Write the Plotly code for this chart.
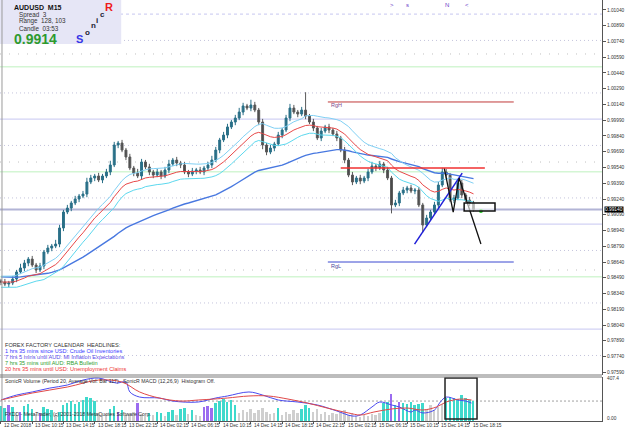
import plotly.graph_objects as go
import pandas as pd

# ---------------- data ----------------
first_open = 0.98460
closes = [
    0.98449, 0.98430, 0.98440, 0.98478, 0.98545, 0.98583, 0.98630, 0.98668, 0.98611, 0.98564,
    0.98602, 0.98735, 0.98773, 0.98792, 0.98811, 0.98964, 0.99116, 0.99154, 0.99202, 0.99240,
    0.99268, 0.99287, 0.99402, 0.99440, 0.99459, 0.99421, 0.99459, 0.99497, 0.99564, 0.99754,
    0.99773, 0.99706, 0.99640, 0.99535, 0.99487, 0.99459, 0.99592, 0.99545, 0.99497, 0.99468,
    0.99497, 0.99459, 0.99516, 0.99573, 0.99611, 0.99583, 0.99564, 0.99497, 0.99478, 0.99506,
    0.99516, 0.99497, 0.99535, 0.99564, 0.99611, 0.99706, 0.99802, 0.99849, 0.99926, 0.99973,
    1.00011, 1.00068, 1.00126, 1.00106, 1.00135, 1.00087, 0.99973, 0.99754, 0.99687, 0.99725,
    0.99764, 0.99849, 0.99897, 1.00011, 1.00106, 1.00068, 1.00049, 1.00087, 1.00030, 0.99973,
    0.99916, 0.99821, 0.99887, 0.99926, 0.99897, 0.99859, 0.99821, 0.99706, 0.99611, 0.99468,
    0.99402, 0.99440, 0.99411, 0.99440, 0.99497, 0.99554, 0.99535, 0.99573, 0.99516, 0.99440,
    0.99183, 0.99202, 0.99297, 0.99325, 0.99345, 0.99316, 0.99325, 0.99183, 0.98992, 0.99059,
    0.99116, 0.99183, 0.99373, 0.99497, 0.99468, 0.99230, 0.99249, 0.99392, 0.99278, 0.99230,
    0.99202, 0.99140]
up_wick_pips = [
    2, 3, 2, 3, 2, 4, 3, 2, 3, 2,
    3, 2, 3, 2, 4, 3, 2, 3, 2, 3,
    2, 3, 4, 3, 2, 3, 2, 3, 4, 3,
    2, 3, 2, 3, 2, 4, 3, 2, 3, 2,
    3, 2, 3, 4, 2, 3, 2, 3, 2, 3,
    2, 3, 2, 3, 4, 3, 2, 3, 3, 2,
    3, 4, 3, 2, 5, 3, 2, 3, 2, 3,
    2, 3, 2, 3, 4, 3, 2, 3, 17, 2,
    3, 2, 3, 2, 3, 2, 3, 2, 3, 2,
    3, 2, 3, 2, 3, 4, 2, 3, 2, 3,
    2, 3, 2, 3, 2, 3, 2, 3, 2, 3,
    2, 3, 3, 4, 3, 2, 3, 2, 3, 2,
    3, 2]
low_wick_pips = [
    3, 2, 3, 2, 3, 2, 3, 3, 2, 3,
    2, 3, 2, 3, 2, 3, 3, 2, 3, 2,
    3, 2, 3, 2, 3, 2, 3, 2, 3, 2,
    3, 2, 3, 2, 3, 2, 3, 2, 3, 3,
    2, 3, 2, 3, 2, 3, 3, 2, 3, 2,
    3, 2, 3, 2, 3, 2, 3, 2, 3, 2,
    3, 2, 3, 2, 3, 2, 3, 4, 3, 2,
    3, 2, 3, 2, 3, 2, 3, 2, 3, 2,
    3, 2, 3, 2, 3, 2, 3, 2, 3, 2,
    3, 2, 3, 2, 3, 2, 3, 2, 3, 2,
    8, 2, 3, 2, 3, 2, 3, 2, 7, 2,
    3, 2, 3, 2, 3, 2, 3, 2, 3, 2,
    3, 2]

volumes = [
    140, 120, 150, 130, 60, 90, 140, 160, 110, 70,
    80, 130, 110, 100, 60, 90, 150, 170, 190, 160,
    180, 200, 230, 220, 190, 80, 60, 70, 110, 140,
    90, 100, 60, 70, 90, 170, 70, 50, 80, 60,
    90, 80, 50, 90, 100, 60, 110, 120, 70, 100,
    60, 50, 130, 140, 120, 170, 190, 210, 180, 200,
    150, 80, 100, 90, 110, 80, 100, 120, 90, 70,
    80, 120, 60, 90, 70, 100, 80, 110, 150, 120,
    90, 110, 70, 90, 60, 80, 70, 90, 100, 60,
    80, 50, 40, 60, 50, 70, 60, 80, 170, 180,
    260, 150, 180, 170, 160, 180, 150, 160, 170, 110,
    150, 100, 130, 160, 220, 230, 220, 210, 250, 220,
    200, 190]
volume_kind = ("ttptgptttg" "ptttgttttt" "tttttgggtt" "ptgggpggtg" "ttgttgttgt"
               "ggpppttttt" "tggggggggg" "gtgggggttt" "gggggggggg" "ggggggggtt"
               "ptpttttttg" "ggggtttttt" "tt")
volume_avg_level = 189

macd_blue_x = [0, 4, 8, 12.5, 17, 21, 25, 29.5, 32, 33, 35.5, 40.5, 44, 50.5, 55, 58, 63.5, 67, 71,
               76, 81, 86, 90, 92, 95, 97, 100, 102, 105, 106, 108, 111, 112.5, 114, 117, 119, 120.5]
macd_blue = [199, 246, 275, 312, 341, 388, 407, 360, 369, 275, 227, 218, 189, 180, 218, 237, 275, 246, 199,
             180, 152, 95, 47, 57, 133, 180, 152, 133, 85, 104, 76, 104, 180, 227, 199, 189, 170]
macd_red_x = [0, 8, 17, 25, 31, 35.5, 40.5, 46, 50.5, 54.5, 58, 63.5, 68.5, 73.5, 78.5, 83.5, 89, 92,
              95.5, 100, 104, 108, 111.5, 114, 117.5, 120.5]
macd_red = [199, 265, 322, 388, 369, 275, 218, 189, 199, 208, 218, 237, 237, 208, 170, 123, 76, 57,
            85, 114, 123, 104, 133, 180, 208, 199]

price_tick_labels = ["1.01040", "1.00890", "1.00740", "1.00590", "1.00440", "1.00290", "1.00140",
                     "0.99990", "0.99840", "0.99690", "0.99540", "0.99390", "0.99240", "0.99090",
                     "0.98940", "0.98790", "0.98640", "0.98490", "0.98340", "0.98190", "0.98040",
                     "0.97890", "0.97740", "0.97590"]
time_labels = ["12 Dec 2018", "13 Dec 10:15", "13 Dec 14:15", "13 Dec 18:15", "13 Dec 22:15",
               "14 Dec 02:15", "14 Dec 06:15", "14 Dec 10:15", "14 Dec 14:15", "14 Dec 18:15",
               "14 Dec 22:15", "15 Dec 02:15", "15 Dec 06:15", "15 Dec 10:15", "15 Dec 14:15",
               "15 Dec 18:15"]
time_label_index = [0, 8, 16, 24, 32, 40, 48, 56, 64, 72, 80, 88, 96, 104, 112, 120]

bid_price = 0.99140
round_levels = [1.0100, 1.0000, 0.9900, 0.9800]
half_levels = [1.0050, 0.9950, 0.9850]
quarter_levels = [1.0075, 1.0025, 0.9975, 0.9925, 0.9875, 0.9825, 0.9775]
other_levels = [1.00621, 0.99592, 0.98564]
range_high = 1.00164
range_low = 0.98640
resistance = 0.99535
trend_x = [105.9, 118.1]
trend_y = [0.98811, 0.99487]
zigzag_x = [113.5, 115.8, 117.3, 122.9]
zigzag_y = [0.99535, 0.99116, 0.99440, 0.98811]
slow_seed = 0.98500

# ---------------- derived ----------------
n = len(closes)
idx = list(range(n))
opens = [first_open] + closes[:-1]
highs = [max(o, c) + u * 0.0001 for o, c, u in zip(opens, closes, up_wick_pips)]
lows = [min(o, c) - l * 0.0001 for o, c, l in zip(opens, closes, low_wick_pips)]
s_close = pd.Series(closes)
ema_close = s_close.ewm(span=19, adjust=False).mean()
ema_high = pd.Series(highs).ewm(span=19, adjust=False).mean() + 0.00025
ema_low = pd.Series(lows).ewm(span=19, adjust=False).mean() - 0.00020
ema_slow = pd.Series([slow_seed] + closes).ewm(span=58, adjust=False).mean()[1:].reset_index(drop=True)

kind_colors = {"t": "#3fd9cc", "g": "#cfcfcf", "p": "#9b6cf0"}
vol_colors = [kind_colors[k] for k in volume_kind]

FONT = "Liberation Sans, Arial, sans-serif"
W_PLOT = 606.0
H_PLOT = 421.0


def px2x(px):
    return px / W_PLOT


def py2y(py):
    return (H_PLOT - py) / H_PLOT


fig = go.Figure()

# main price window
fig.add_trace(go.Candlestick(
    x=idx, open=opens, high=highs, low=lows, close=closes,
    increasing=dict(line=dict(color="#2a7088", width=1), fillcolor="#2a7088"),
    decreasing=dict(line=dict(color="#5a5a5a", width=1), fillcolor="#4a4a4a"),
    whiskerwidth=0, showlegend=False, xaxis="x", yaxis="y", hoverinfo="skip"))

fig.add_trace(go.Scatter(x=idx, y=ema_slow, mode="lines", line=dict(color="#4878e0", width=1.4),
                         showlegend=False, xaxis="x", yaxis="y", hoverinfo="skip"))
fig.add_trace(go.Scatter(x=idx, y=ema_high, mode="lines", line=dict(color="#80d0f4", width=1),
                         showlegend=False, xaxis="x", yaxis="y", hoverinfo="skip"))
fig.add_trace(go.Scatter(x=idx, y=ema_low, mode="lines", line=dict(color="#5cd8ee", width=1),
                         showlegend=False, xaxis="x", yaxis="y", hoverinfo="skip"))
fig.add_trace(go.Scatter(x=idx, y=ema_close, mode="lines", line=dict(color="#e84848", width=1),
                         showlegend=False, xaxis="x", yaxis="y", hoverinfo="skip"))

# drawn objects
fig.add_trace(go.Scatter(x=trend_x, y=trend_y, mode="lines", line=dict(color="#2020d8", width=1.5),
                         showlegend=False, xaxis="x", yaxis="y", hoverinfo="skip"))
fig.add_trace(go.Scatter(x=zigzag_x, y=zigzag_y, mode="lines", line=dict(color="#111111", width=1.3),
                         showlegend=False, xaxis="x", yaxis="y", hoverinfo="skip"))

# sub window
fig.add_trace(go.Bar(x=idx, y=volumes, marker=dict(color=vol_colors, line=dict(width=0)), width=0.5,
                     showlegend=False, xaxis="x2", yaxis="y2", hoverinfo="skip"))
fig.add_trace(go.Scatter(x=macd_blue_x, y=macd_blue, mode="lines", line=dict(color="#4a4af0", width=1, shape="spline"),
                         showlegend=False, xaxis="x2", yaxis="y2", hoverinfo="skip"))
fig.add_trace(go.Scatter(x=macd_red_x, y=macd_red, mode="lines", line=dict(color="#e04848", width=1, shape="spline"),
                         showlegend=False, xaxis="x2", yaxis="y2", hoverinfo="skip"))

shapes = []
for lv in round_levels:
    shapes.append(dict(type="line", xref="x domain", x0=0, x1=1, yref="y", y0=lv, y1=lv,
                       line=dict(color="#d2d2f4", width=1.2, dash="dot" if lv > 1.005 else "solid"), layer="below"))
for lv in half_levels:
    shapes.append(dict(type="line", xref="x domain", x0=0, x1=1, yref="y", y0=lv, y1=lv,
                       line=dict(color="#d4f6d4", width=1.5), layer="below"))
for lv in quarter_levels:
    shapes.append(dict(type="line", xref="x domain", x0=0, x1=1, yref="y", y0=lv, y1=lv,
                       line=dict(color="#c4c4dc", width=1, dash="1px,3px"), layer="below"))
for lv in other_levels:
    shapes.append(dict(type="line", xref="x domain", x0=0, x1=1, yref="y", y0=lv, y1=lv,
                       line=dict(color="#c0c0c0", width=1, dash="1px,8px"), layer="below"))
# bid line
shapes.append(dict(type="line", xref="x domain", x0=0, x1=1, yref="y", y0=bid_price, y1=bid_price,
                   line=dict(color="#b2b4d6", width=2), layer="below"))
# range high / low lines
shapes.append(dict(type="line", xref="x", x0=83.7, x1=131.3, yref="y", y0=range_high, y1=range_high,
                   line=dict(color="#c03a3a", width=1)))
shapes.append(dict(type="line", xref="x", x0=83.7, x1=131.3, yref="y", y0=range_low, y1=range_low,
                   line=dict(color="#3a48d0", width=1)))
shapes.append(dict(type="line", xref="x", x0=87.0, x1=123.9, yref="y", y0=resistance, y1=resistance,
                   line=dict(color="#f03030", width=1.5)))
# rectangle
shapes.append(dict(type="rect", xref="x", x0=118.6, x1=126.5, yref="y", y0=0.99126, y1=0.99202,
                   line=dict(color="#111111", width=1.5), fillcolor="rgba(255,255,255,0.6)"))
# sub window rectangle
shapes.append(dict(type="rect", xref="x2", x0=113.7, x1=121.9, yref="y2", y0=19, y1=407,
                   line=dict(color="#222222", width=1.5)))
# volume average dashed line
shapes.append(dict(type="line", xref="x2 domain", x0=0, x1=1, yref="y2", y0=volume_avg_level, y1=volume_avg_level,
                   line=dict(color="#a0a0a0", width=1, dash="2px,2px"), layer="below"))
# info box
shapes.append(dict(type="rect", xref="paper", yref="paper", x0=0, x1=px2x(122), y0=py2y(44), y1=1,
                   line=dict(width=0), fillcolor="#e6e6f6", layer="above"))
# frame lines
shapes.append(dict(type="line", xref="paper", yref="paper", x0=px2x(2), x1=px2x(2), y0=0, y1=1,
                   line=dict(color="#9a9a9a", width=1)))
shapes.append(dict(type="line", xref="paper", yref="paper", x0=0, x1=1, y0=py2y(375), y1=py2y(375),
                   line=dict(color="#7a7a7a", width=1)))
shapes.append(dict(type="line", xref="paper", yref="paper", x0=0, x1=1, y0=py2y(377), y1=py2y(377),
                   line=dict(color="#7a7a7a", width=1)))

ann = []


def text(t, px, py, size, color, bold=False, xanchor="left", family=FONT):
    ann.append(dict(text=("<b>%s</b>" % t) if bold else t, xref="paper", yref="paper",
                    x=px2x(px), y=py2y(py), xanchor=xanchor, yanchor="middle", showarrow=False,
                    font=dict(family=family, size=size, color=color)))


# info panel
text("AUDUSD  M15", 12, 7, 7, "#111111", bold=True)
text("Spread  3", 17, 15, 6.3, "#333333")
text("Range  128, 103", 17, 21.5, 6.3, "#333333")
text("Candle  03:53", 17, 28, 6.3, "#333333")
text("0.9914", 12, 39, 14, "#2e9a2e", bold=True)
text("S", 74, 39, 11, "#3535e6", bold=True)
text("o", 84, 32, 8, "#222233", bold=True)
text("n", 90, 26, 8, "#222233", bold=True)
text("i", 95, 20, 8, "#222233", bold=True)
text("c", 99, 14, 8, "#222233", bold=True)
text("R", 104, 7, 11, "#ee1a1a", bold=True)

# markers at top
for t, px in [(">", 395), ("s", 410), ("N", 450), ("<", 470)]:
    text(t, px, 5, 6, "#6a40c8", xanchor="center")

text("RgH", 331, 105.5, 5.5, "#7a4a8a")
text("RgL", 331, 266, 5.5, "#4a4a9a")

# calendar headlines
text("FOREX FACTORY CALENDAR  HEADLINES:", 3, 344.5, 5.6, "#333333")
text("1 hrs 35 mins since USD: Crude Oil Inventories", 3, 350.5, 5.6, "#3a3aff")
text("7 hrs 5 mins until AUD: MI Inflation Expectations", 3, 356.5, 5.6, "#5a4ae8")
text("7 hrs 35 mins until AUD: RBA Bulletin", 3, 362.5, 5.6, "#2f9e2f")
text("20 hrs 35 mins until USD: Unemployment Claims", 3, 368.5, 5.6, "#ee3030")

# sub window texts
text("SonicR Volume (Period 20, Average Vol: Bar 117)   SonicR MACD (12,26,9)  Histogram Off.", 3, 381, 5.2, "#333333")
text("FXDD - MetaTrader, (c) 2001-2018 MetaQuotes Software Corp.", 3, 413.5, 5.2, "#333333")
text("407.4", 609, 378.5, 4.8, "#333333")
text("0.00", 609, 418, 4.8, "#333333")

# time labels
for lab, i in zip(time_labels, time_label_index):
    ann.append(dict(text=lab, xref="x2", yref="paper", x=i, y=py2y(425), xanchor="left", yanchor="middle",
                    xshift=1, showarrow=False, font=dict(family=FONT, size=4.8, color="#333333")))

# current price label
ann.append(dict(text="0.99140", xref="paper", yref="y", x=1, y=bid_price, xanchor="left", yanchor="middle",
                xshift=2, showarrow=False, bgcolor="#000000", borderpad=0,
                font=dict(family=FONT, size=4.8, color="#ffffff")))

# green dot
fig.add_trace(go.Scatter(x=[122.9], y=[0.99126], mode="markers", marker=dict(color="#22cc22", size=4),
                         showlegend=False, xaxis="x", yaxis="y", hoverinfo="skip"))

price_tick_vals = [float(s) for s in price_tick_labels]
x_range = [-0.25, 153.9]

fig.update_layout(
    width=625, height=429,
    margin=dict(l=0, r=19, t=0, b=8),
    paper_bgcolor="white", plot_bgcolor="white",
    showlegend=False,
    bargap=0,
    shapes=shapes,
    annotations=ann,
    xaxis=dict(domain=[0, 1], range=x_range, anchor="y", showticklabels=False, showgrid=False,
               zeroline=False, showline=False, ticks="", rangeslider=dict(visible=False), fixedrange=True),
    yaxis=dict(domain=[py2y(375), 1], range=[0.97564, 1.01135], side="right", anchor="x",
               tickvals=price_tick_vals, ticktext=price_tick_labels, ticks="outside", ticklen=3,
               tickcolor="#555555", tickfont=dict(family=FONT, size=4.8, color="#333333"),
               showgrid=False, zeroline=False, showline=True, linecolor="#555555", linewidth=1),
    xaxis2=dict(domain=[0, 1], range=x_range, anchor="y2", showticklabels=False, showgrid=False,
                zeroline=False, showline=True, linecolor="#555555", linewidth=1,
                tickvals=time_label_index, ticks="outside", ticklen=2, tickcolor="#555555"),
    yaxis2=dict(domain=[0, py2y(377)], range=[0, 417], side="right", anchor="x2",
                showticklabels=False, showgrid=False, zeroline=False, showline=True,
                linecolor="#555555", linewidth=1, ticks=""),
)

fig.write_html("out.html")
